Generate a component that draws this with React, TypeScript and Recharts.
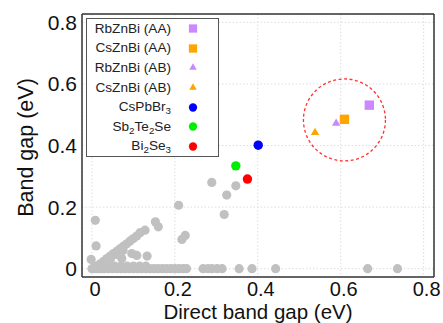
import {
  ScatterChart,
  Scatter,
  XAxis,
  YAxis,
  CartesianGrid,
  Legend,
  ReferenceDot,
  Label,
} from 'recharts';

const FONT = '"Liberation Sans", Arial, Helvetica, sans-serif';
const FRAME = '#333333';
const GRAY = '#c0c0c0';

const X_DOMAIN = [-0.024, 0.825];
const Y_DOMAIN = [-0.027, 0.827];
const TICKS = [0, 0.2, 0.4, 0.6, 0.8];

// other materials (grey cloud)
const grayX = [
  0, 0.006, 0.012, 0.018, 0.024, 0.03, 0.04, 0.05, 0.06, 0.07, 0.08, 0.09, 0.1, 0.11, 0.12, 0.13,
  0.14, 0.15, 0.16, 0.17, 0.18, 0.19, 0.2, 0.21, 0.22, 0.228, 0.268, 0.28, 0.29, 0.302, 0.314,
  0.355, 0.386, 0.443, 0.665, 0.737,
  0.01, 0.025, 0.04, 0.055, 0.07, 0.085, 0.1, 0.115, 0.13,
  0.02, 0.028, 0.036, 0.044, 0.052, 0.06, 0.068, 0.076, 0.084, 0.092, 0.1, 0.108, 0.116, 0.128,
  0.03, 0.045, 0.06, 0.075,
  0.289, 0.347, 0.325, 0.319, 0.209, 0.225, 0.217, 0.008, 0.01, -0.002, 0.153, 0.16,
  0.133, 0.108, 0.096, 0.072,
];
const grayY = [
  0, 0, 0, 0, 0, 0, 0, 0, 0, 0, 0, 0, 0, 0, 0, 0,
  0, 0, 0, 0, 0, 0, 0, 0, 0, 0, 0, 0, 0, 0, 0,
  0, 0, 0, 0, 0,
  0.008, 0.008, 0.008, 0.008, 0.008, 0.008, 0.008, 0.008, 0.008,
  0.016, 0.024, 0.033, 0.041, 0.049, 0.057, 0.065, 0.073, 0.081, 0.09, 0.098, 0.106, 0.117, 0.125,
  0.02, 0.033, 0.046, 0.059,
  0.28, 0.269, 0.239, 0.176, 0.206, 0.108, 0.095, 0.157, 0.074, 0.03, 0.152, 0.136,
  0.041, 0.043, 0.049, 0.033,
];

// highlighted materials
const seriesNames = ['RbZnBi (AA)', 'CsZnBi (AA)', 'RbZnBi (AB)', 'CsZnBi (AB)', 'CsPbBr_3', 'Sb_2Te_2Se', 'Bi_2Se_3'];
const seriesX = [0.669, 0.609, 0.589, 0.538, 0.401, 0.347, 0.375];
const seriesY = [0.531, 0.485, 0.472, 0.442, 0.401, 0.334, 0.291];
const seriesColors = ['#cc88ff', '#ffa500', '#cc88ff', '#ffa500', '#0000ff', '#00ee00', '#ff0000'];
const seriesShapes = ['square', 'square', 'triangle', 'triangle', 'circle', 'circle', 'circle'];

const circleX = 0.609;
const circleY = 0.483;

const grayData = grayX.map((x, i) => ({ x, y: grayY[i] }));

function Marker({ cx, cy, shape, color, size = 1 }: any) {
  if (shape === 'square') {
    const s = 9.4 * size;
    return <rect x={cx - s / 2} y={cy - s / 2} width={s} height={s} fill={color} />;
  }
  if (shape === 'triangle') {
    const w = 8.5 * size;
    const h = w * 0.87;
    return (
      <polygon
        points={`${cx},${cy - (2 * h) / 3} ${cx - w / 2},${cy + h / 3} ${cx + w / 2},${cy + h / 3}`}
        fill={color}
      />
    );
  }
  return <circle cx={cx} cy={cy} r={4.7 * size} fill={color} />;
}

function renderLabelText(text: string) {
  const parts = text.split(/_(\d)/);
  return parts.map((p, i) =>
    i % 2 === 1 ? (
      <sub key={i} style={{ fontSize: '0.72em', verticalAlign: '-0.3em', lineHeight: 0 }}>
        {p}
      </sub>
    ) : (
      <span key={i}>{p}</span>
    ),
  );
}

function LegendBox() {
  return (
    <div
      style={{
        width: 133,
        height: 139,
        boxSizing: 'border-box',
        border: '1px solid #555',
        background: '#fff',
        fontFamily: FONT,
        fontSize: 13.6,
        color: '#222',
      }}
    >
      {seriesNames.map((name, i) => (
        <div key={name} style={{ display: 'flex', alignItems: 'center', height: 19.6 }}>
          <div style={{ width: 84, textAlign: 'right', whiteSpace: 'nowrap', lineHeight: '16px' }}>
            {renderLabelText(name)}
          </div>
          <svg width={46} height={19} style={{ display: 'block' }}>
            <Marker cx={22} cy={9.5} shape={seriesShapes[i]} color={seriesColors[i]} size={0.88} />
          </svg>
        </div>
      ))}
    </div>
  );
}

function XTitle({ viewBox }: any) {
  return (
    <text
      x={viewBox.x + viewBox.width / 2}
      y={viewBox.y + 41.9}
      textAnchor="middle"
      fontFamily={FONT}
      fontSize={20.5}
      fill="#111"
    >
      Direct band gap (eV)
    </text>
  );
}

function YTitle({ viewBox }: any) {
  const cx = 33;
  const cy = viewBox.y + viewBox.height / 2 + 2;
  return (
    <text
      x={cx}
      y={cy}
      transform={`rotate(-90 ${cx} ${cy})`}
      textAnchor="middle"
      fontFamily={FONT}
      fontSize={21.5}
      fill="#111"
    >
      Band gap (eV)
    </text>
  );
}

const tickStyle = { fontSize: 21, fill: '#111', fontFamily: FONT };
const xTickStyle = { fontSize: 20, fill: '#111', fontFamily: FONT };

export default function App() {
  return (
    <div style={{ position: 'absolute', left: 0, top: 0, background: '#fff' }}>
      <ScatterChart width={443} height={323} margin={{ top: 14, right: 9, bottom: 16, left: 22 }}>
        <CartesianGrid stroke="#dddddd" strokeDasharray="1.5 2" />
        <XAxis
          type="number"
          dataKey="x"
          domain={X_DOMAIN}
          ticks={TICKS}
          allowDataOverflow
          height={30}
          tickLine={false}
          tickSize={0}
          tickMargin={5}
          tick={xTickStyle}
          dx={3}
          tickFormatter={(v) => String(v)}
          axisLine={{ stroke: FRAME, strokeWidth: 1.5 }}
        >
          <Label content={XTitle} />
        </XAxis>
        <XAxis xAxisId="bt" type="number" dataKey="x" domain={X_DOMAIN} ticks={TICKS} allowDataOverflow orientation="bottom" mirror tick={false} tickSize={4} axisLine={false} tickLine={{ stroke: FRAME }} />
        <XAxis xAxisId="top" type="number" dataKey="x" domain={X_DOMAIN} ticks={TICKS} allowDataOverflow orientation="top" mirror tick={false} tickSize={4} axisLine={{ stroke: FRAME, strokeWidth: 1.5 }} tickLine={{ stroke: FRAME }} />
        <YAxis
          type="number"
          dataKey="y"
          domain={Y_DOMAIN}
          ticks={TICKS}
          allowDataOverflow
          width={60}
          tickLine={false}
          tickSize={0}
          tickMargin={5}
          tick={tickStyle}
          tickFormatter={(v) => String(v)}
          axisLine={{ stroke: FRAME, strokeWidth: 1.5 }}
        >
          <Label content={YTitle} />
        </YAxis>
        <YAxis yAxisId="lt" type="number" dataKey="y" domain={Y_DOMAIN} ticks={TICKS} allowDataOverflow orientation="left" mirror tick={false} tickSize={4} axisLine={false} tickLine={{ stroke: FRAME }} />
        <YAxis yAxisId="right" type="number" dataKey="y" domain={Y_DOMAIN} ticks={TICKS} allowDataOverflow orientation="right" mirror tick={false} tickSize={4} axisLine={{ stroke: FRAME, strokeWidth: 1.5 }} tickLine={{ stroke: FRAME }} />
        <Scatter
          name="others"
          data={grayData}
          isAnimationActive={false}
          legendType="none"
          shape={(p: any) => <circle cx={p.cx} cy={p.cy} r={4.6} fill={GRAY} />}
        />
        {seriesNames.map((name, i) => (
          <Scatter
            key={name}
            name={name}
            data={[{ x: seriesX[i], y: seriesY[i] }]}
            isAnimationActive={false}
            fill={seriesColors[i]}
            shape={(p: any) => <Marker cx={p.cx} cy={p.cy} shape={seriesShapes[i]} color={seriesColors[i]} />}
          />
        ))}
        <ReferenceDot
          x={circleX}
          y={circleY}
          r={41}
          fill="none"
          stroke="#ff3333"
          strokeWidth={1.3}
          strokeDasharray="3 2.5"
        />
        <Legend
          layout="vertical"
          align="center"
          verticalAlign="middle"
          content={() => <LegendBox />}
          wrapperStyle={{ position: 'absolute', left: 86, top: 18, width: 133, height: 139 }}
        />
      </ScatterChart>
    </div>
  );
}
